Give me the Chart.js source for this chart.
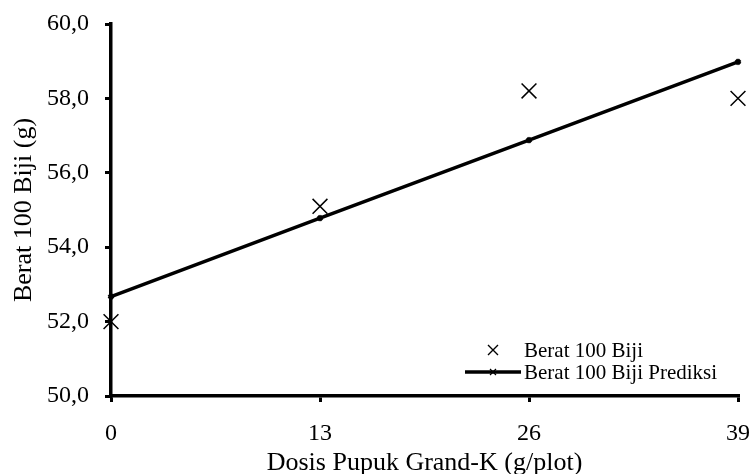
<!DOCTYPE html>
<html>
<head>
<meta charset="utf-8">
<script src="https://cdn.jsdelivr.net/npm/chart.js@4"></script>
<style>
  body { margin: 0; background: #fff; }
  #wrap { width: 750px; height: 474px; }
</style>
</head>
<body>
<div id="wrap"><canvas id="myChart"></canvas></div>
<script>
const dosis = [0, 13, 26, 39];
const berat = [52.0, 55.1, 58.2, 58.0];
const beratPrediksi = [52.67, 54.78, 56.88, 58.98];
const xTicks = [0, 13, 26, 39];
const yTicks = [50, 52, 54, 56, 58, 60];

const font = 'Liberation Serif';

// legend drawn inside the plot, lower right
const innerLegend = {
  id: 'innerLegend',
  afterDraw(chart) {
    const c = chart.ctx;
    const x = 524, y0 = 350, gap = 22;
    c.save();
    c.font = '21px "' + font + '"';
    c.fillStyle = '#000';
    c.textBaseline = 'middle';
    chart.data.datasets.forEach(function(ds, i) {
      const y = y0 + i * gap;
      c.strokeStyle = '#000';
      if (ds.showLine) {
        c.lineWidth = 3.5;
        c.beginPath();
        c.moveTo(465, y);
        c.lineTo(521, y);
        c.stroke();
        c.lineWidth = 1.2;
        c.beginPath();
        c.moveTo(490, y - 3); c.lineTo(496, y + 3);
        c.moveTo(496, y - 3); c.lineTo(490, y + 3);
        c.stroke();
      } else {
        c.lineWidth = 1.4;
        c.beginPath();
        c.moveTo(488, y - 5); c.lineTo(498, y + 5);
        c.moveTo(498, y - 5); c.lineTo(488, y + 5);
        c.stroke();
      }
      c.fillText(ds.label, x, y + 1);
    });
    c.restore();
  }
};

new Chart(document.getElementById('myChart'), {
  type: 'scatter',
  data: {
    datasets: [{
      label: 'Berat 100 Biji',
      data: dosis.map((d, i) => ({ x: d, y: berat[i] })),
      showLine: false,
      clip: false,
      pointStyle: 'crossRot',
      pointRadius: 10.5,
      borderColor: '#000',
      borderWidth: 1.5
    }, {
      label: 'Berat 100 Biji Prediksi',
      data: dosis.map((d, i) => ({ x: d, y: beratPrediksi[i] })),
      showLine: true,
      clip: false,
      pointStyle: 'crossRot',
      pointRadius: 3,
      borderColor: '#000',
      backgroundColor: '#000',
      borderWidth: 3.5
    }]
  },
  options: {
    responsive: true,
    maintainAspectRatio: false,
    animation: false,
    layout: { padding: { top: 24, right: 0, left: 0, bottom: 0 } },
    plugins: {
      legend: { display: false },
      tooltip: { enabled: false }
    },
    scales: {
      x: {
        type: 'linear',
        min: 0,
        max: 39,
        afterBuildTicks: function(axis) { axis.ticks = xTicks.map(v => ({ value: v })); },
        afterFit: function(axis) { axis.height = 78; axis.paddingLeft = 0; axis.paddingRight = 12; },
        grid: { drawOnChartArea: false, drawTicks: true, tickLength: 6, tickColor: '#000', lineWidth: 3 },
        border: { display: true, color: '#000', width: 3.5 },
        ticks: { color: '#000', font: { family: font, size: 24 }, padding: 17 },
        title: { display: true, text: 'Dosis Pupuk Grand-K (g/plot)', color: '#000', font: { family: font, size: 26, lineHeight: 0.85 }, padding: { top: 0, bottom: 0 } }
      },
      y: {
        min: 50,
        max: 60,
        afterBuildTicks: function(axis) { axis.ticks = yTicks.map(v => ({ value: v })); },
        afterFit: function(axis) { axis.width = 111; axis.paddingTop = 0; axis.paddingBottom = 0; },
        grid: { drawOnChartArea: false, drawTicks: true, tickLength: 6, tickColor: '#000', lineWidth: 3 },
        border: { display: true, color: '#000', width: 3.5 },
        ticks: {
          color: '#000',
          font: { family: font, size: 24 },
          padding: 16,
          callback: function(v) { return v.toFixed(1).replace('.', ','); }
        },
        title: { display: true, text: 'Berat 100 Biji (g)', color: '#000', font: { family: font, size: 26 }, padding: { top: 8.5, bottom: 0 } }
      }
    }
  },
  plugins: [innerLegend]
});
</script>
</body>
</html>
